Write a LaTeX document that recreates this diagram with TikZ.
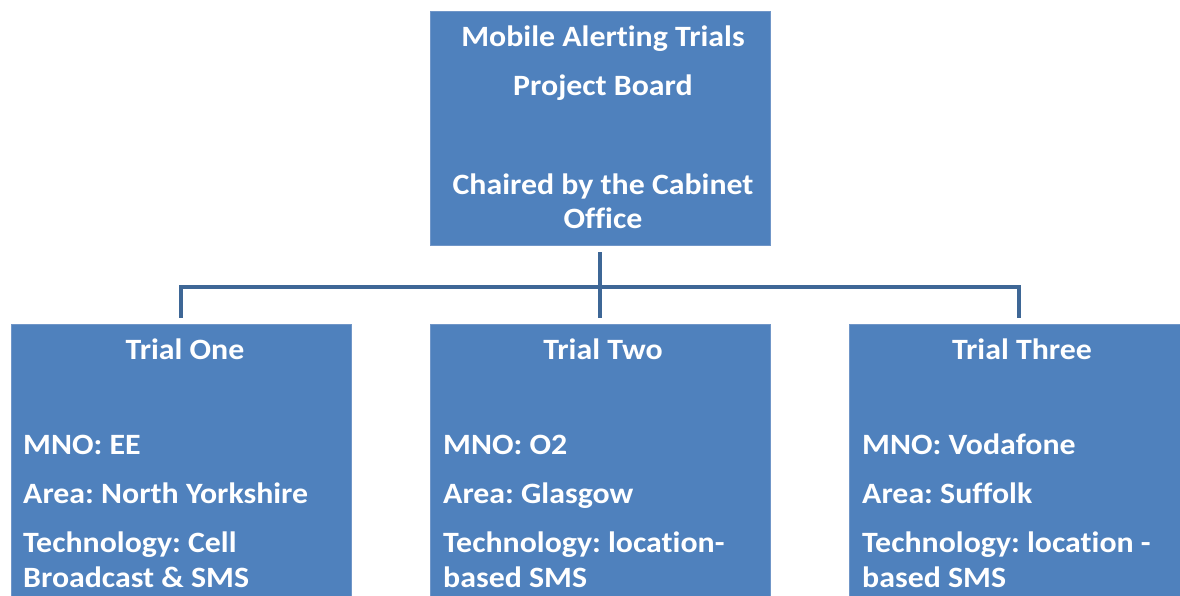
\documentclass[tikz,border=0pt]{standalone}
\usepackage{fontspec}
\setmainfont[Ligatures=NoCommon,FakeStretch=1.08]{Carlito}
\frenchspacing
\definecolor{boxblue}{HTML}{4F81BD}
\definecolor{boxedge}{HTML}{7096C8}
\definecolor{linkblue}{HTML}{3E6796}
\begin{document}
\begin{tikzpicture}[x=1pt,y=-1pt,
  box/.style={draw=boxedge,line width=0.8pt,fill=boxblue,minimum width=340pt,inner sep=0pt},
  txt/.style={text=white,font=\fontsize{29.5}{35}\selectfont\bfseries,inner sep=0pt},
  ctxt/.style={txt,anchor=base},
  ltxt/.style={txt,anchor=base west},
  link/.style={draw=linkblue,line width=4pt}]
\useasboundingbox (0,0) rectangle (1180,596);
\clip (0,0) rectangle (1180,596);
\fill[white] (0,0) rectangle (1180,596);
% boxes
\node[box,minimum height=234pt] (top) at (600,128) {};
\node[box,minimum height=300pt] (t1) at (181,474) {};
\node[box,minimum height=300pt] (t2) at (600,474) {};
\node[box,minimum height=300pt] (t3) at (1019,474) {};
% connectors
\coordinate (busL) at (181,287);
\coordinate (busR) at (1019,287);
\draw[link] ([yshift=-7pt]top.south) -- ([yshift=6pt]t2.north);
\draw[link] ([yshift=6pt]t1.north) -- (busL) -- (busR) -- ([yshift=6pt]t3.north);
% top text
\node[ctxt] (a1) at (603,47) {Mobile Alerting Trials};
\node[ctxt] (a2) at (603,96) {Project Board};
\node[ctxt] (a3) at (603,194) {Chaired by the Cabinet};
\node[ctxt] (a4) at (603,228) {Office};
% trial one
\node[ctxt] (b1) at (185,359) {Trial One};
\node[ltxt] (b2) at (23,454) {MNO: EE};
\node[ltxt] (b3) at (23,503) {Area: North Yorkshire};
\node[ltxt] (b4) at (23,552) {Technology: Cell};
\node[ltxt] (b5) at (23,587) {Broadcast \& SMS};
% trial two
\node[ctxt] (c1) at (603,359) {Trial Two};
\node[ltxt] (c2) at (443,454) {MNO: O2};
\node[ltxt] (c3) at (443,503) {Area: Glasgow};
\node[ltxt] (c4) at (443,552) {Technology: location-};
\node[ltxt] (c5) at (443,587) {based SMS};
% trial three
\node[ctxt] (d1) at (1022,359) {Trial Three};
\node[ltxt] (d2) at (862,454) {MNO: Vodafone};
\node[ltxt] (d3) at (862,503) {Area: Suffolk};
\node[ltxt] (d4) at (862,552) {Technology: location -};
\node[ltxt] (d5) at (862,587) {based SMS};
\end{tikzpicture}
\end{document}
